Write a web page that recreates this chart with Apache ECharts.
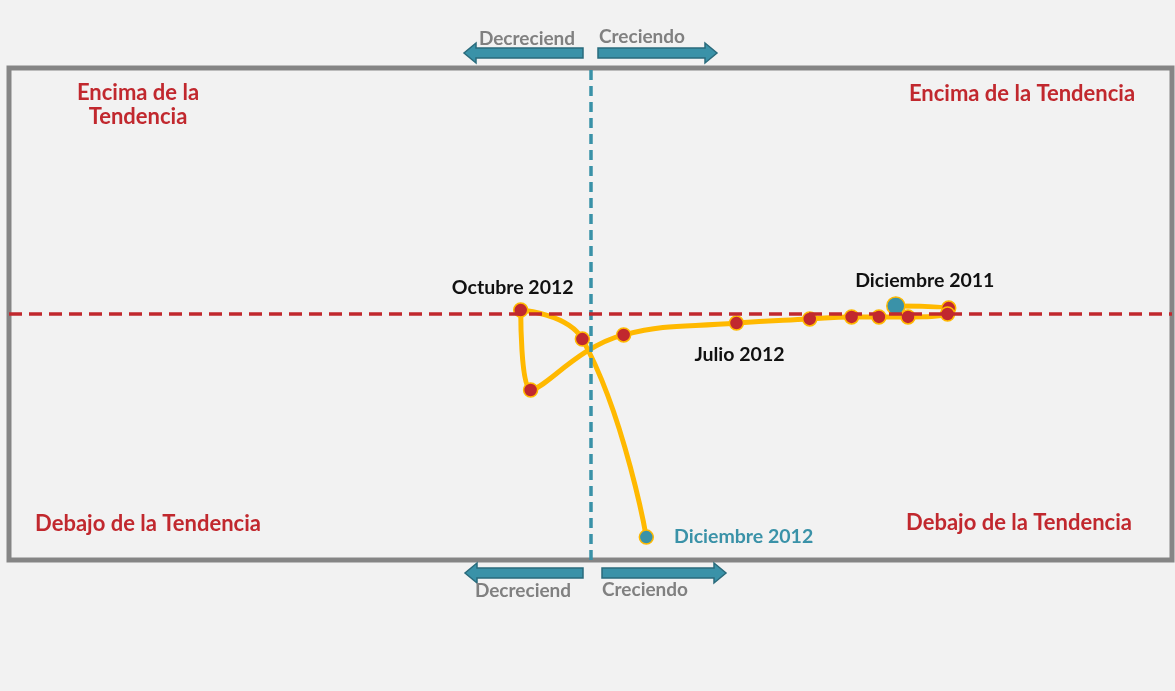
<!DOCTYPE html>
<html>
<head>
<meta charset="utf-8">
<script src="https://cdn.jsdelivr.net/npm/echarts@6/dist/echarts.min.js"></script>
<style>
  html, body { margin: 0; padding: 0; background: #f2f2f2; }
  #chart { width: 1175px; height: 691px; }
</style>
</head>
<body>
<div id="chart"></div>
<script>
// meses del recorrido, dic 2011 -> dic 2012
const months = ['Diciembre 2011', 'Enero 2012', 'Febrero 2012', 'Marzo 2012', 'Abril 2012', 'Mayo 2012',
  'Junio 2012', 'Julio 2012', 'Agosto 2012', 'Septiembre 2012', 'Octubre 2012', 'Noviembre 2012', 'Diciembre 2012']
// eje x: crecimiento (negativo = decreciendo)
const growth = [5.25, 6.16, 6.14, 5.46, 4.96, 4.49, 3.77, 2.51, 0.57, -1.03, -1.20, -0.14, 0.96]
// eje y: posición respecto a la tendencia
const trendGap = [0.33, 0.24, 0.00, -0.12, -0.12, -0.12, -0.20, -0.37, -0.85, -3.09, 0.16, -1.02, -9.07]
// meses con etiqueta
const labeled = ['Diciembre 2011', 'Julio 2012', 'Octubre 2012', 'Diciembre 2012']

const RED = '#c1282e'
const TEAL = '#3a92a8'
const AMBER = '#ffb900'
const FONT = 'Lato'

// estilos de las etiquetas
const labelStyle = {
  'Diciembre 2011': { position: 'top', offset: [29, 0], color: '#111' },
  'Julio 2012': { position: 'bottom', offset: [3, 9], color: '#111' },
  'Octubre 2012': { position: 'top', offset: [-8, 0], color: '#111' },
  'Diciembre 2012': { position: 'right', distance: 20, color: TEAL }
}

const data = months.map((m, i) => {
  const first = i === 0
  const last = i === months.length - 1
  const item = {
    name: m,
    value: [growth[i], trendGap[i]],
    symbolSize: first ? 18 : 14,
    itemStyle: { color: (first || last) ? TEAL : RED }
  }
  if (labeled.includes(m)) {
    item.label = Object.assign({
      show: true,
      formatter: '{b}',
      fontFamily: FONT,
      fontWeight: 'bold',
      fontSize: 19.5
    }, labelStyle[m])
  }
  return item
})

// flecha horizontal (dir = -1 izquierda, 1 derecha)
function arrow (x0, x1, y, dir) {
  const tip = dir < 0 ? x0 : x1
  const base = tip - dir * 12
  const end = dir < 0 ? x1 : x0
  return {
    type: 'polygon',
    shape: {
      points: [[end, y - 5], [base, y - 5], [base, y - 10], [tip, y], [base, y + 10], [base, y + 5], [end, y + 5]]
    },
    style: { fill: TEAL, stroke: '#2a6b7c', lineWidth: 1.5 }
  }
}

function text (x, y, str, color, size) {
  return {
    type: 'text',
    x: x,
    y: y,
    style: {
      text: str,
      fill: color,
      font: 'bold ' + size + 'px ' + FONT,
      align: 'center',
      verticalAlign: 'middle',
      lineHeight: 24
    }
  }
}

const chart = echarts.init(document.getElementById('chart'))
chart.setOption({
  backgroundColor: '#f2f2f2',
  animation: false,
  grid: {
    left: 9,
    right: 3,
    top: 68,
    bottom: 131,
    show: true,
    borderColor: '#858585',
    borderWidth: 5,
    backgroundColor: 'transparent'
  },
  xAxis: {
    type: 'value',
    min: -10,
    max: 10,
    axisLine: { show: false },
    axisTick: { show: false },
    axisLabel: { show: false },
    splitLine: { show: false }
  },
  yAxis: {
    type: 'value',
    min: -10,
    max: 10,
    axisLine: { show: false },
    axisTick: { show: false },
    axisLabel: { show: false },
    splitLine: { show: false }
  },
  graphic: [
    arrow(464, 583, 53, -1),
    arrow(598, 717, 53, 1),
    arrow(465, 583, 573, -1),
    arrow(602, 726, 573, 1),
    text(527, 39, 'Decreciend', '#808080', 19),
    text(642, 37, 'Creciendo', '#808080', 19),
    text(523, 591, 'Decreciend', '#808080', 19),
    text(645, 590, 'Creciendo', '#808080', 19),
    text(138, 105, 'Encima de la\nTendencia', RED, 22),
    text(1022, 94, 'Encima de la Tendencia', RED, 22),
    text(148, 524, 'Debajo de la Tendencia', RED, 22),
    text(1019, 523, 'Debajo de la Tendencia', RED, 22)
  ],
  series: [
    {
      type: 'line',
      smooth: 0.45,
      data: data,
      symbol: 'circle',
      lineStyle: { color: AMBER, width: 5 },
      itemStyle: { borderColor: AMBER, borderWidth: 1.5 },
      z: 3,
      markLine: {
        silent: true,
        symbol: 'none',
        label: { show: false },
        data: [
          { xAxis: 0, lineStyle: { color: TEAL, type: [10, 6], width: 3.5 } },
          { yAxis: 0, lineStyle: { color: RED, type: [13, 7], width: 3.5 } }
        ]
      }
    }
  ]
})
</script>
</body>
</html>
